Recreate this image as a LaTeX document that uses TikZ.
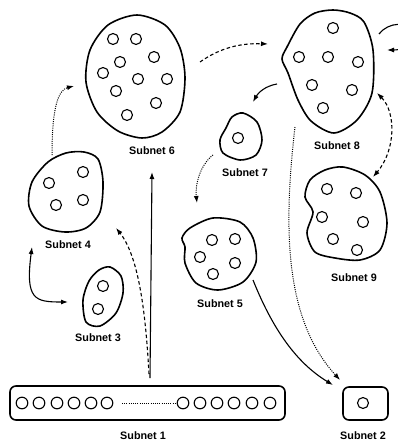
\documentclass[tikz,border=0pt]{standalone}
\usepackage{fontspec}
\setmainfont{Liberation Sans}
\usetikzlibrary{arrows.meta}

\begin{document}
\begin{tikzpicture}[x=1pt,y=-1pt]
		\tikzset{blob/.style = {line width=1.6pt}}
		\tikzset{host/.style = {line width=1.1pt}}
		\tikzset{netlabel/.style = {font=\bfseries\fontsize{10.8}{12}\selectfont, inner sep=0pt}}
		\tikzset{link/.style = {-{Latex[length=7pt,width=5pt]}, line width=1.1pt}}
		\tikzset{dashlink/.style = {link, dash pattern=on 3.5pt off 2.5pt}}
		\tikzset{dotlink/.style = {link, line width=1pt, dash pattern=on 1pt off 1.2pt}}
		\useasboundingbox (0,0) rectangle (398,444);
		\clip (0,0) rectangle (398,444);
		% subnets
		\draw[blob] plot[smooth cycle] coordinates {(137,15) (165,25) (180,48) (185,78) (180,112) (162,132) (142,138) (118,131) (97,112) (86,82) (90,50) (108,25)};
		\draw[blob] plot[smooth cycle] coordinates {(333,10) (350,13) (364,22) (373,50) (372,93) (357,120) (334,133) (311,121) (298,100) (288,73) (282,59) (287,47) (300,24) (315,13)};
		\draw[blob] plot[smooth cycle] coordinates {(84,152) (98,159) (103,182) (100,212) (86,228) (65,232) (42,226) (29,206) (32,182) (48,162) (66,153)};
		\draw[blob] plot[smooth cycle] coordinates {(110,267) (121,276) (123,293) (116,313) (100,326) (86,322) (83,300) (89,281) (99,270)};
		\draw[blob] plot[smooth cycle] coordinates {(213,218) (240,222) (253,238) (256,262) (243,282) (218,290) (196,283) (185,263) (185,247) (182,238) (190,228)};
		\draw[blob] plot[smooth cycle] coordinates {(243,113) (257,122) (262,140) (256,155) (240,160) (223,153) (220,140) (226,128) (232,117)};
		\draw[blob] plot[smooth cycle] coordinates {(343,167) (365,175) (380,192) (387,223) (380,250) (360,260) (335,258) (315,252) (307,233) (313,212) (305,197) (310,180) (325,170)};
		\draw[blob, rounded corners=6] (10,386) rectangle (285,420);
		\draw[blob, rounded corners=6] (343,387) rectangle (388,420);
		% hosts
		\foreach \p in {(113,39),(136,39),(154,57),(120,62),(103,73),(138,79),(167,79),(116,91),(156,103),(127,115),
			(333,28),(299,57),(328,57),(358,62),(312,85),(352,90),(323,108),
			(49,183),(83,172),(56,205),(83,200),
			(103,286),(98,309),
			(212,240),(235,239),(200,257),(235,263),(213,274),
			(238,138),
			(327,189),(356,193),(322,217),(363,222),(333,239),(357,250),
			(363,403)}
			\draw[host] \p circle (5.5);
		\foreach \x in {22,39,57,74,91,107,183,200,217,234,252,270}
			\draw[host] (\x,403) circle (5.8);
		\draw[line width=0.8pt, dash pattern=on 0.8pt off 1.4pt] (122,403) -- (176,403);
		% labels
		\node[netlabel] (n1) at (143,436) {Subnet 1};
		\node[netlabel] (n2) at (363,436) {Subnet 2};
		\node[netlabel] (n3) at (98,338) {Subnet 3};
		\node[netlabel] (n4) at (68,245) {Subnet 4};
		\node[netlabel] (n5) at (220,304) {Subnet 5};
		\node[netlabel] (n6) at (152,151) {Subnet 6};
		\node[netlabel] (n7) at (245,173) {Subnet 7};
		\node[netlabel] (n8) at (337,146) {Subnet 8};
		\node[netlabel] (n9) at (354,278) {Subnet 9};
		% connector ends
		\coordinate (s1a) at (150,378);
		\coordinate (s1b) at (149,374);
		\coordinate (s6in) at (152,172);
		\coordinate (s4in) at (116,228);
		\coordinate (s4top) at (32,247);
		\coordinate (s3in) at (68,302);
		\coordinate (s4out) at (52,155);
		\coordinate (s6left) at (74,86);
		\coordinate (s6out) at (200,62);
		\coordinate (s8left) at (268,44);
		\coordinate (s8out) at (277,84);
		\coordinate (s7in) at (253,102);
		\coordinate (s7out) at (213,155);
		\coordinate (s5in) at (197,203);
		\coordinate (s8right) at (377,93);
		\coordinate (s9in) at (373,177);
		\coordinate (s8low) at (295,127);
		\coordinate (s2a) at (340,380);
		\coordinate (s5out) at (253,280);
		\coordinate (s2b) at (333,385);
		\coordinate (s8top) at (379,34);
		\coordinate (s8back) at (387,50);
		% edges
		\draw[link] (s1a) -- (s6in);
		\draw[dashlink] (s1b) .. controls (146,320) and (140,258) .. (s4in);
		\draw[link, {Latex[length=7pt,width=5pt]}-{Latex[length=7pt,width=5pt]}] (s4top) .. controls (25,300) and (35,302) .. (s3in);
		\draw[dotlink] (s4out) .. controls (52,108) and (58,90) .. (s6left);
		\draw[dashlink] (s6out) .. controls (220,48) and (240,43) .. (s8left);
		\draw[link] (s8out) .. controls (265,86) and (258,93) .. (s7in);
		\draw[dotlink] (s7out) .. controls (200,165) and (195,185) .. (s5in);
		\draw[dashlink, {Latex[length=7pt,width=5pt]}-{Latex[length=7pt,width=5pt]}] (s8right) .. controls (396,112) and (396,150) .. (s9in);
		\draw[dotlink] (s8low) .. controls (283,230) and (285,320) .. (s2a);
		\draw[link] (s5out) .. controls (275,335) and (300,365) .. (s2b);
		\draw[link] (s8top) .. controls (388,22) and (410,20) .. (410,35) .. controls (410,48) and (400,50) .. (s8back);
\end{tikzpicture}
\end{document}
